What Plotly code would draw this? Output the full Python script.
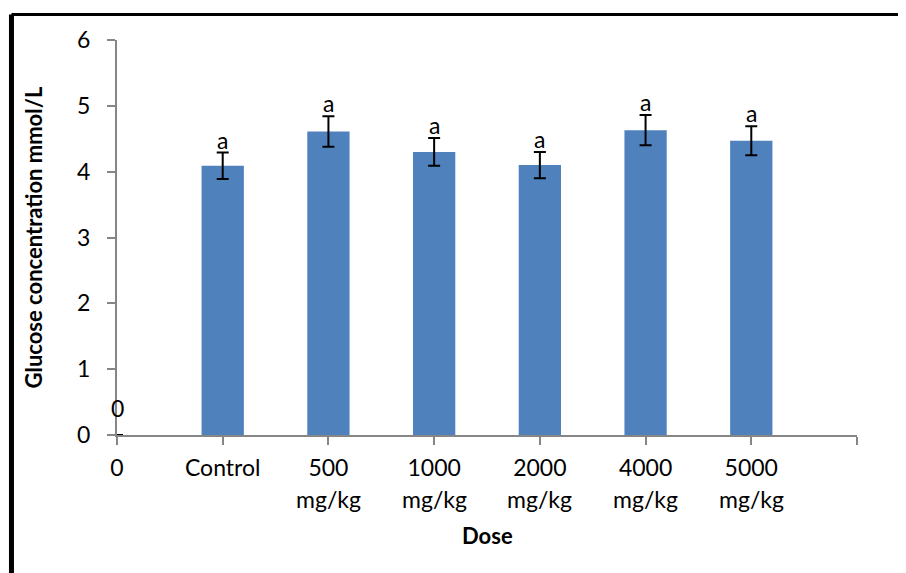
import plotly.graph_objects as go

categories = ["0", "Control", "500", "1000", "2000", "4000", "5000"]
unit_line = ["", "", "mg/kg", "mg/kg", "mg/kg", "mg/kg", "mg/kg"]
glucose = [0, 4.09, 4.61, 4.30, 4.10, 4.63, 4.47]
sem = [0, 0.20, 0.23, 0.21, 0.20, 0.23, 0.22]
sig_letters = ["0", "a", "a", "a", "a", "a", "a"]

FONT = "Lato"
FS = 23
BAR = "#4F81BD"
AXIS = "#868686"

xpos = list(range(len(categories)))
err_vals = [e if e > 0 else None for e in sem]

fig = go.Figure()
fig.add_trace(go.Bar(
    x=xpos, y=glucose, width=0.4,
    marker=dict(color=BAR, line=dict(width=0)),
    error_y=dict(type="data", array=err_vals, visible=True, color="black", thickness=2, width=6),
    showlegend=False, hoverinfo="skip",
))

annotations = []
for xi, v, e, t in zip(xpos, glucose, sem, sig_letters):
    annotations.append(dict(
        x=xi, y=v + e, xref="x", yref="y", text=t, showarrow=False,
        yanchor="bottom", yshift=(11 if v == 0 else -3),
        font=dict(family=FONT, size=FS, color="black"),
    ))
for xi, t in zip(xpos, unit_line):
    if t:
        annotations.append(dict(
            x=xi, y=0, xref="x", yref="paper", text=t, showarrow=False,
            yanchor="middle", yshift=-64,
            font=dict(family=FONT, size=FS, color="black"),
        ))
annotations.append(dict(
    x=0.5, y=0, xref="paper", yref="paper", text="<b>Dose</b>", showarrow=False,
    yanchor="middle", yshift=-100, font=dict(family=FONT, size=22, color="black"),
))
annotations.append(dict(
    x=-0.1135, y=0.5, xref="paper", yref="paper", text="<b>Glucose concentration mmol/L</b>",
    showarrow=False, textangle=-90, xanchor="center", yanchor="middle",
    font=dict(family=FONT, size=22, color="black"),
))

fig.update_layout(
    width=906, height=573,
    margin=dict(l=109, r=57, t=32, b=146),
    paper_bgcolor="white", plot_bgcolor="white",
    font=dict(family=FONT, size=FS, color="black"),
    annotations=annotations,
    xaxis=dict(
        range=[0, 7], tickmode="array", tickvals=list(range(8)),
        ticktext=categories + [""], showgrid=False, zeroline=False,
        showline=True, linecolor=AXIS, linewidth=2,
        ticks="outside", ticklen=8, tickwidth=2, tickcolor=AXIS,
        ticklabelstandoff=3, automargin=False,
    ),
    yaxis=dict(
        range=[0, 6], tickvals=[0, 1, 2, 3, 4, 5, 6], showgrid=False, zeroline=False,
        showline=True, linecolor=AXIS, linewidth=2,
        ticks="outside", ticklen=8, tickwidth=2, tickcolor=AXIS,
        ticklabelstandoff=12, automargin=False,
    ),
    shapes=[
        dict(type="line", xref="paper", yref="paper", x0=-0.1426, x1=-0.1426, y0=-0.5, y1=1.0646,
             line=dict(color="black", width=5)),
        dict(type="line", xref="paper", yref="paper", x0=-0.1426, x1=1.2, y0=1.0646, y1=1.0646,
             line=dict(color="black", width=3)),
    ],
)

fig.write_html("out.html")
